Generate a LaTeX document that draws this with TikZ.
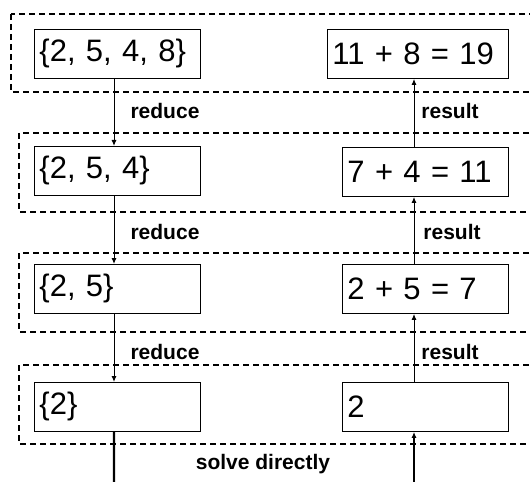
\documentclass[tikz,border=0pt]{standalone}
\usepackage{fontspec}
\setmainfont{Liberation Sans}
\usetikzlibrary{arrows.meta}
\begin{document}
\begin{tikzpicture}[x=1bp,y=-1bp,
  grp/.style={draw,line width=1.3bp,dash pattern=on 6bp off 4bp},
  box/.style={draw,line width=0.9bp,anchor=north west,inner xsep=5bp,inner ysep=0bp,
    minimum height=49bp,align=left,font=\fontsize{31bp}{34bp}\selectfont},
  lbl/.style={font=\bfseries\fontsize{21bp}{24bp}\selectfont,inner sep=0bp},
  arr/.style={line width=1bp,-{Latex[length=6bp,width=5bp]}}]
\useasboundingbox (0,0) rectangle (530,482);
% dashed groups
\draw[grp] (11,14) rectangle (545,92);
\draw[grp] (19,133) rectangle (545,212);
\draw[grp] (19,253) rectangle (545,332);
\draw[grp] (19,365) rectangle (545,444);
% boxes
\node[box,text width=156bp] (L1) at (34,29) {\{2, 5, 4, 8\}};
\node[box,text width=171bp] (R1) at (327,29) {11 + 8 = 19};
\node[box,text width=156bp] (L2) at (34,146) {\{2, 5, 4\}};
\node[box,text width=156bp] (R2) at (342,147) {7 + 4 = 11};
\node[box,text width=156bp] (L3) at (34,264) {\{2, 5\}};
\node[box,text width=156bp] (R3) at (342,264) {2 + 5 = 7};
\node[box,text width=156bp] (L4) at (34,382) {\{2\}};
\node[box,text width=156bp] (R4) at (342,382) {2};
% reduce arrows
\draw[arr] ([xshift=80bp]L1.south west) -- ([xshift=80bp]L1.south west |- L2.north);
\draw[arr] ([xshift=80bp]L2.south west) -- ([xshift=80bp]L2.south west |- L3.north);
\draw[arr] ([xshift=80bp]L3.south west) -- ([xshift=80bp]L3.south west |- L4.north);
% result arrows
\draw[arr] ([xshift=72bp]R2.north west) -- ([xshift=72bp]R2.north west |- R1.south);
\draw[arr] ([xshift=72bp]R3.north west) -- ([xshift=72bp]R3.north west |- R2.south);
\draw[arr] ([xshift=72bp]R4.north west) -- ([xshift=72bp]R4.north west |- R3.south);
% bottom
\coordinate (bl) at (114,485);
\coordinate (br) at (414,485);
\draw[line width=2.2bp] ([xshift=80bp]L4.south west) -- (bl);
\draw[line width=1.4bp,-{Latex[length=6bp,width=5bp]}] (br) -- (br |- R4.south);
% labels
\node[lbl] (t1) at (165,111) {reduce};
\node[lbl] (t2) at (450,111) {result};
\node[lbl] (t3) at (165,232) {reduce};
\node[lbl] (t4) at (452,232) {result};
\node[lbl] (t5) at (165,352) {reduce};
\node[lbl] (t6) at (450,352) {result};
\node[lbl] (t7) at (263,464) {solve directly};
\end{tikzpicture}
\end{document}
